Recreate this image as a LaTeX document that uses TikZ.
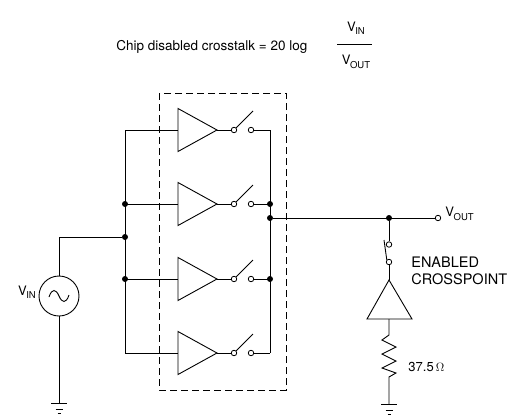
\documentclass[tikz,border=0pt]{standalone}
\usepackage{fontspec}
\setmainfont{TeX Gyre Heros}
\newcommand{\vsub}[1]{V\kern-0.5pt\raisebox{-0.5ex}{\fontsize{9.5}{10}\selectfont #1}}
\tikzset{
    wire/.style={line width=0.9pt},
    dot/.style={circle,fill,inner sep=0pt,minimum size=6pt},
    opendot/.style={circle,draw,fill=white,line width=0.8pt,inner sep=0pt,minimum size=5.5pt},
    lbl/.style={font=\fontsize{13}{15}\selectfont,inner sep=0pt},
    biglbl/.style={font=\fontsize{14.5}{17}\selectfont,inner sep=0pt}
}
\begin{document}
\begin{tikzpicture}[x=1pt,y=-1pt,wire]
    \useasboundingbox (0,0) rectangle (513,418);
    % formula
    \node[lbl,font=\fontsize{13.5}{15}\selectfont,anchor=base west] (title) at (116,50) {Chip disabled crosstalk = 20 log};
    \node[lbl] (num) at (356,28) {\vsub{IN}};
    \node[lbl] (den) at (356,62) {\vsub{OUT}};
    \draw (337,44) -- (372,44);
    % chip outline
    \draw[dash pattern=on 7pt off 4pt] (159,93) rectangle (286,390);
    % busses
    \coordinate (lt) at (125,130);
    \coordinate (lb) at (125,353);
    \coordinate (rt) at (270,130);
    \coordinate (rb) at (270,353);
    \draw (lt) -- (lb);
    \draw (rt) -- (rb);
    % four crosspoints, all disabled
    \foreach \y [count=\i] in {130,204,279,353} {
        \draw (125,\y) -- (178,\y);
        \draw (178,\y-21.5) -- (217,\y) -- (178,\y+21.5) -- cycle;
        \node[opendot] (sa\i) at (234,\y) {};
        \node[opendot] (sb\i) at (251,\y) {};
        \draw (217,\y) -- (sa\i.west);
        \draw (sa\i.north east) -- (253,\y-19);
        \draw (sb\i.east) -- (270,\y);
    }
    \node[dot] (j1) at (125,204) {};
    \node[dot] (j2) at (125,237) {};
    \node[dot] (j3) at (125,279) {};
    \node[dot] (j4) at (270,204) {};
    \node[dot] (j5) at (270,218) {};
    \node[dot] (j6) at (270,279) {};
    % source
    \node[circle,draw,minimum size=40pt,inner sep=0pt] (src) at (59,296) {};
    \draw (j2) -- (59,237) -- (src.north);
    \draw (49,297) .. controls (52,288) and (56,289) .. (59,296)
                   .. controls (62,303) and (66,304) .. (69,295);
    \node[lbl] (vin) at (27,292) {\vsub{IN}};
    \coordinate (g1) at (59,403);
    \draw (src.south) -- (g1);
    \draw (51,403) -- (67,403);
    \draw (55.5,409) -- (62.5,409);
    \draw (57.5,413.5) -- (60.5,413.5);
    % output
    \node[dot] (j7) at (389,218) {};
    \node[opendot] (out) at (438,218) {};
    \draw (j5) -- (out.west);
    \node[lbl,anchor=west] (vout) at (445,214) {\vsub{OUT}};
    % enabled crosspoint
    \node[opendot] (ea) at (389,244.5) {};
    \node[opendot] (eb) at (389,262) {};
    \draw (j7) -- (ea.north);
    \draw (eb.north west) -- (384,240);
    \draw (eb.south) -- (389,280);
    \draw (389,280) -- (412,319) -- (367,319) -- cycle;
    \node[biglbl,anchor=west,align=left] (en) at (411,271) {ENABLED\\CROSSPOINT};
    \draw (389,319) -- (389,335) -- (382,340) -- (396,347) -- (382,354) -- (396,361)
          -- (382,368) -- (396,373) -- (389,377) -- (389,404);
    \node[lbl,anchor=west] (rl) at (408,367) {37.5\,$\Omega$};
    \draw (381,404) -- (397,404);
    \draw (385.5,410) -- (392.5,410);
    \draw (387.5,414.5) -- (390.5,414.5);
\end{tikzpicture}
\end{document}
